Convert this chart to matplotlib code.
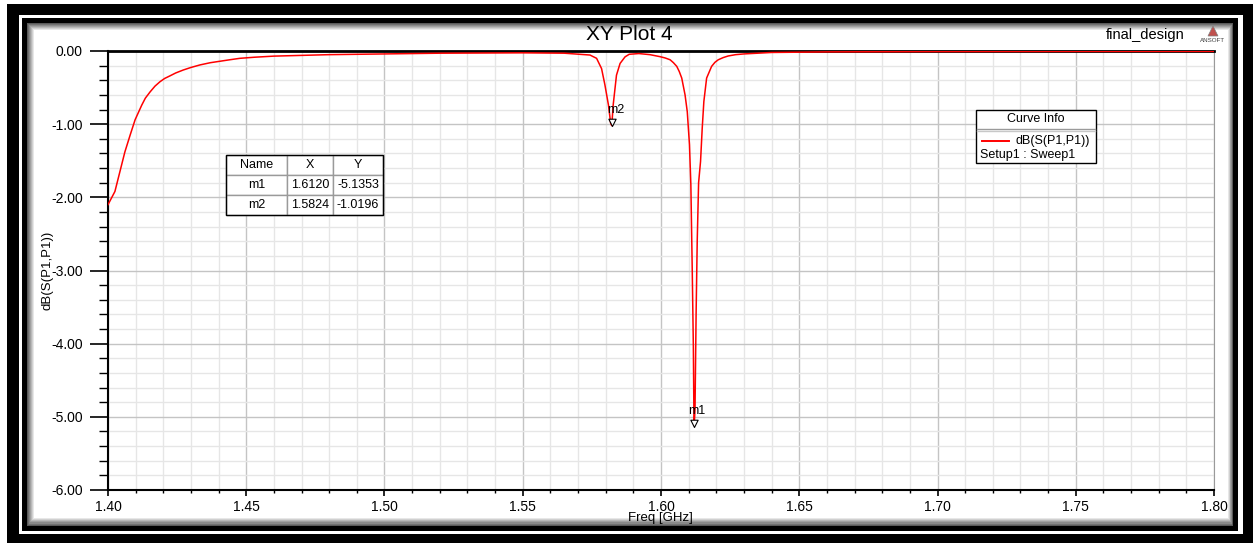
import matplotlib
matplotlib.use("Agg")
import matplotlib.pyplot as plt
import numpy as np
from matplotlib.patches import Rectangle, Polygon
from matplotlib.lines import Line2D
from matplotlib.path import Path
from matplotlib.ticker import MultipleLocator, FormatStrFormatter

# ----- DATA -----

freq_ghz = [
    1.4000, 1.4025, 1.4043, 1.4061, 1.4080, 1.4098, 1.4122, 1.4135, 1.4152,
    1.4170, 1.4188, 1.4205, 1.4224, 1.4245, 1.4272, 1.4300, 1.4333, 1.4370,
    1.4405, 1.4440, 1.4477, 1.4530, 1.4600, 1.4800, 1.5000, 1.5200,
    1.5500, 1.5650, 1.5743, 1.5767, 1.5785, 1.5797, 1.5810, 1.5818, 1.5822,
    1.5827, 1.5839, 1.5852, 1.5870, 1.5885, 1.5920, 1.5960, 1.5996, 1.6015,
    1.6033, 1.6045, 1.6057, 1.6066, 1.6075, 1.6087, 1.6095, 1.6103, 1.6108,
    1.6113, 1.6117, 1.6119, 1.6120, 1.6123, 1.6127, 1.6131, 1.6136, 1.6143,
    1.6149, 1.6155, 1.6165, 1.6183, 1.6195, 1.6207, 1.6225, 1.6243, 1.6270,
    1.6300, 1.6400, 1.6600, 1.7000, 1.7500, 1.8000,
]
s11_db = [
    -2.10, -1.92, -1.65, -1.38, -1.15, -0.94, -0.74, -0.645, -0.56,
    -0.48, -0.42, -0.375, -0.34, -0.30, -0.26, -0.225, -0.19, -0.16,
    -0.14, -0.12, -0.10, -0.085, -0.07, -0.05, -0.04, -0.03,
    -0.025, -0.03, -0.055, -0.10, -0.24, -0.46, -0.74, -0.99, -1.02,
    -0.74, -0.33, -0.17, -0.08, -0.045, -0.035, -0.05, -0.077, -0.095,
    -0.12, -0.16, -0.21, -0.28, -0.37, -0.60, -0.83, -1.28, -1.83,
    -3.00, -4.04, -4.95, -5.12, -4.90, -3.58, -2.60, -1.80, -1.51,
    -1.06, -0.69, -0.37, -0.21, -0.155, -0.12, -0.09, -0.068, -0.05,
    -0.04, -0.02, -0.012, -0.008, -0.006, -0.005,
]

marker_names = ["m1", "m2"]
marker_x = [1.6120, 1.5824]
marker_y = [-5.1353, -1.0196]

# ----- LAYOUT HELPERS -----

W, H = 1253, 543
FONT = "Liberation Sans"
plt.rcParams["font.family"] = [FONT, "DejaVu Sans"]
plt.rcParams["axes.unicode_minus"] = False


def fx(x):
    return x / W


def fy(y):
    return 1 - y / H


def frect(x0, y0, x1, y1, **kw):
    return Rectangle((fx(x0), fy(y1)), (x1 - x0) / W, (y1 - y0) / H,
                     transform=fig.transFigure, **kw)


fig = plt.figure(figsize=(W / 100, H / 100), dpi=100, facecolor="white")

# window frame: black border, white line, black line, soft shadow
fig.add_artist(frect(7, 4, W, H, fc="black", ec="none", zorder=-10))
fig.add_artist(frect(19, 15, 1243, 534, fc="white", ec="none", zorder=-9))
fig.add_artist(frect(22, 18, 1238, 531, fc="black", ec="none", zorder=-8))
shades = np.linspace(0.35, 1.0, 8)
for i, g in enumerate(shades):
    fig.add_artist(frect(27 + i, 23 + i, 1233 - i * 0.7, 526 - i * 1.2,
                         fc=str(g), ec="none", zorder=-7 + i * 0.1))

# ----- AXES -----

ax = fig.add_axes([fx(108), fy(490), 1106 / W, 439 / H])
ax.set_facecolor("white")
ax.plot(freq_ghz, s11_db, color="#ff0000", lw=1.1, zorder=3)

ax.set_xlim(1.40, 1.80)
ax.set_ylim(-6.0, 0.0)
ax.xaxis.set_major_locator(MultipleLocator(0.05))
ax.xaxis.set_minor_locator(MultipleLocator(0.01))
ax.yaxis.set_major_locator(MultipleLocator(1.0))
ax.yaxis.set_minor_locator(MultipleLocator(0.2))
ax.xaxis.set_major_formatter(FormatStrFormatter("%.2f"))
ax.yaxis.set_major_formatter(FormatStrFormatter("%.2f"))

ax.grid(which="major", color="#c4c4c4", lw=1.0, zorder=0)
ax.grid(which="minor", color="#e6e6e6", lw=1.0, zorder=0)
ax.set_axisbelow(True)

ax.tick_params(axis="y", which="major", direction="out", length=13, width=1.2,
               labelsize=10, pad=5, colors="black")
ax.tick_params(axis="y", which="minor", direction="out", length=6.5, width=1.0)
ax.tick_params(axis="x", which="major", direction="out", length=4.5, width=1.2,
               labelsize=10, pad=3, colors="black")
ax.tick_params(axis="x", which="minor", direction="out", length=2.5, width=1.0)

for side in ["left", "bottom"]:
    ax.spines[side].set_linewidth(1.5)
    ax.spines[side].set_color("black")
ax.spines["top"].set_linewidth(2.0)
ax.spines["top"].set_color("black")
ax.spines["right"].set_linewidth(0.8)
ax.spines["right"].set_color("#9a9a9a")

# markers (open downward triangle with its tip at the point)
tri = Path([(-0.5, 1.0), (0.5, 1.0), (0.0, 0.0), (-0.5, 1.0)],
           [Path.MOVETO, Path.LINETO, Path.LINETO, Path.CLOSEPOLY])
ax.scatter(marker_x, marker_y, marker=tri, s=110, facecolors="white",
           edgecolors="black", linewidths=0.8, zorder=4)
for name, mx, my in zip(marker_names, marker_x, marker_y):
    ax.annotate(name, (mx, my), xytext=(3, 10), textcoords="offset pixels",
                ha="center", va="bottom", fontsize=9, color="black", zorder=5)

# marker table
rows = [[n, "%.4f" % x, "%.4f" % y] for n, x, y in zip(marker_names, marker_x, marker_y)]
tx0, ty0, tx1, ty1 = 226, 155, 383, 215
bbox = [(tx0 - 108) / 1106, 1 - (ty1 - 51) / 439, (tx1 - tx0) / 1106, (ty1 - ty0) / 439]
tbl = ax.table(cellText=rows, colLabels=["Name", "X", "Y"], cellLoc="center",
               colWidths=[61, 46, 50], bbox=bbox, zorder=6)
tbl.auto_set_font_size(False)
for (r, c), cell in tbl.get_celld().items():
    cell.set_edgecolor("#9a9a9a")
    cell.set_linewidth(1.0)
    cell.set_facecolor("white")
    cell.get_text().set_fontsize(9)
    cell.get_text().set_fontfamily(FONT)
fig.add_artist(frect(tx0, ty0, tx1, ty1, fc="none", ec="black", lw=1.0, zorder=10))

# curve info box
fig.add_artist(frect(976, 110, 1096, 163, fc="white", ec="black", lw=1.0, zorder=10))
fig.add_artist(Line2D([fx(977), fx(1095)], [fy(129), fy(129)], color="#9a9a9a",
                      lw=1.0, transform=fig.transFigure, zorder=11))
fig.add_artist(Line2D([fx(977), fx(1095)], [fy(131), fy(131)], color="#c8c8c8",
                      lw=1.0, transform=fig.transFigure, zorder=11))
fig.text(fx(1036), fy(119.5), "Curve Info", ha="center", va="center", fontsize=9, zorder=12)
fig.add_artist(Line2D([fx(982), fx(1009)], [fy(141), fy(141)], color="#ff0000",
                      lw=1.4, transform=fig.transFigure, zorder=12))
fig.text(fx(1016), fy(141), "dB(S(P1,P1))", ha="left", va="center", fontsize=9, zorder=12)
fig.text(fx(980), fy(155), "Setup1 : Sweep1", ha="left", va="center", fontsize=9, zorder=12)

# titles and labels
fig.text(fx(629), fy(35), "XY Plot 4", ha="center", va="center", fontsize=15)
fig.text(fx(1145), fy(35), "final_design", ha="center", va="center", fontsize=10.5)
fig.text(fx(660), fy(518), "Freq [GHz]", ha="center", va="center", fontsize=9.5)
fig.text(fx(48), fy(270), "dB(S(P1,P1))", ha="center", va="center", fontsize=9.5,
         rotation=90)

# small vendor logo
fig.add_artist(Polygon([(fx(1208), fy(36)), (fx(1218), fy(36)), (fx(1213), fy(26))],
                       closed=True, fc="#c0504d", ec="#808080", lw=0.5,
                       transform=fig.transFigure))
fig.text(fx(1213), fy(40), "ANSOFT", ha="center", va="center", fontsize=4.5,
         color="#404040")

fig.savefig("out.png", dpi=100, facecolor=fig.get_facecolor())
